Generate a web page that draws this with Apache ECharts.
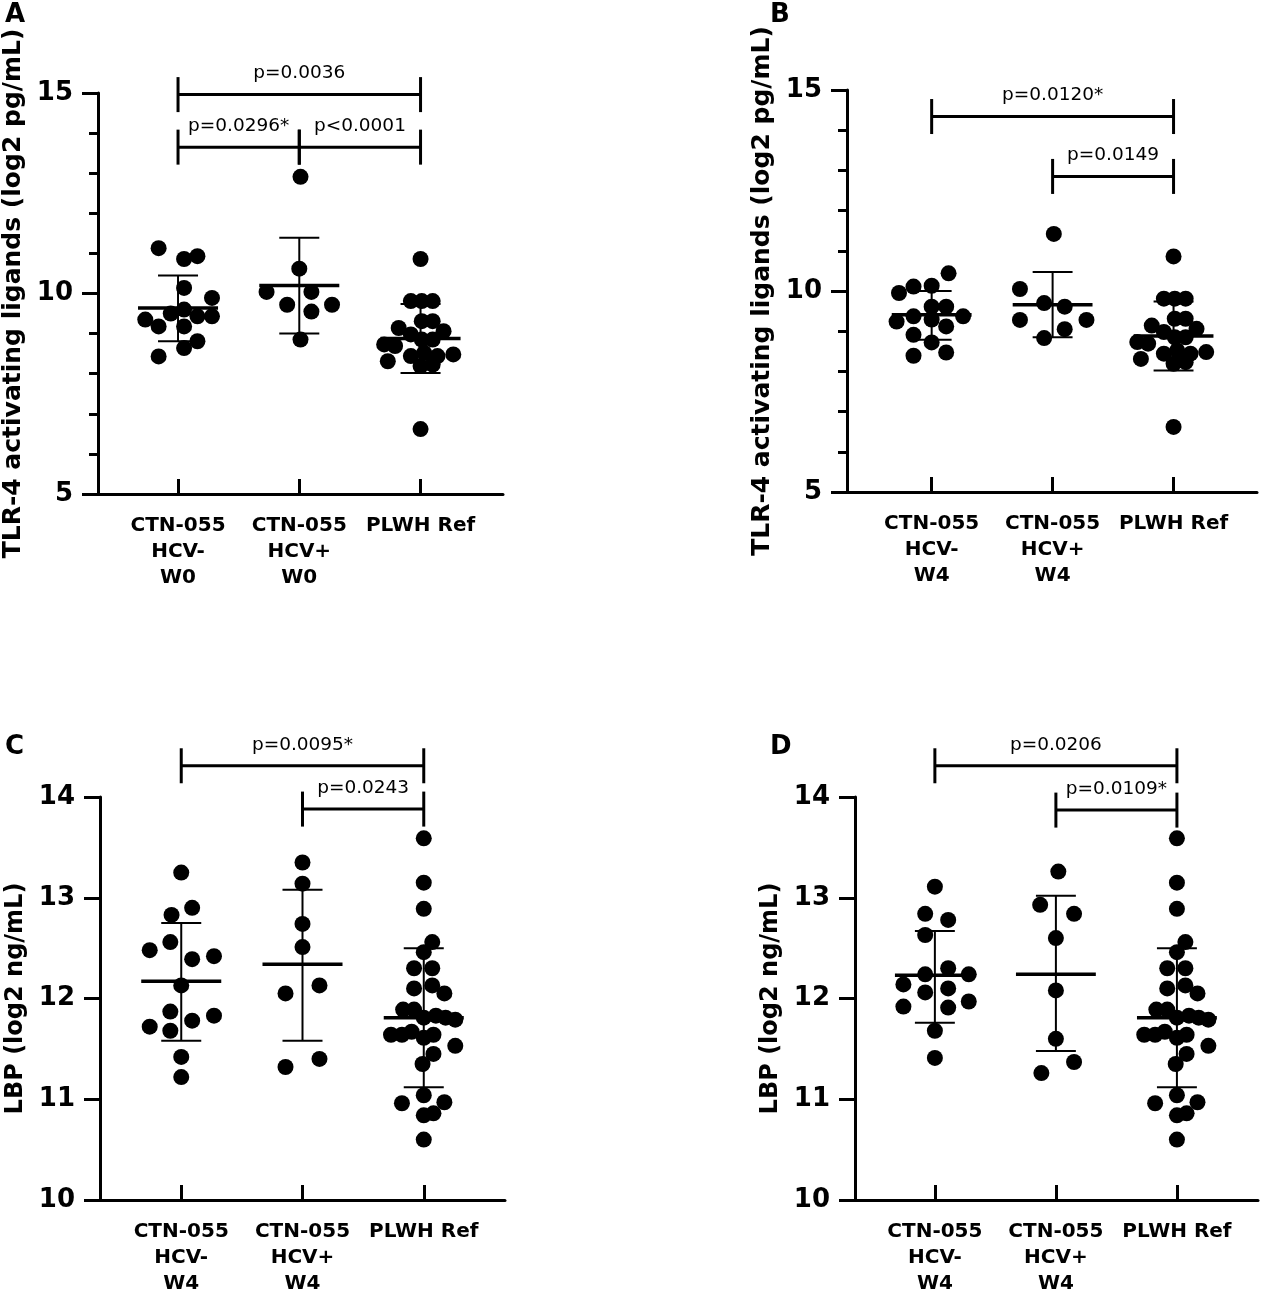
<!DOCTYPE html>
<html lang="en">
<head>
    <meta charset="UTF-8">
    <title>TLR-4 ligands and LBP</title>
    <script src="https://cdn.jsdelivr.net/npm/echarts@6/dist/echarts.min.js"></script>
    <style>
        html, body { margin: 0; padding: 0; background: #fff; }
        #main { width: 1261px; height: 1297px; }
    </style>
</head>
<body>
<div id="main"></div>
<script>
    // x labels
    var labelsW0 = ['CTN-055\nHCV-\nW0', 'CTN-055\nHCV+\nW0', 'PLWH Ref'];
    var labelsW4 = ['CTN-055\nHCV-\nW4', 'CTN-055\nHCV+\nW4', 'PLWH Ref'];

    // dots: [jitter offset, value]
    var tlrW0Neg = [[-0.16,11.13],[0.05,10.86],[0.16,10.93],[0.05,10.14],[0.28,9.89],[-0.27,9.35],[-0.16,9.18],
        [-0.06,9.50],[0.05,9.60],[0.16,9.43],[0.28,9.43],[0.05,9.18],[0.16,8.81],[0.05,8.64],[-0.16,8.43]];
    var tlrW0Pos = [[0.01,12.91],[0.0,10.62],[-0.27,10.04],[0.10,10.04],[-0.10,9.72],[0.10,9.55],[0.27,9.72],[0.01,8.85]];
    var tlrRef = [[0,10.86],[-0.08,9.81],[0.01,9.81],[0.10,9.81],[0.01,9.31],[0.10,9.31],[-0.18,9.14],[0.19,9.06],
        [-0.08,8.98],[0.01,8.85],[0.10,8.85],[-0.30,8.73],[-0.21,8.69],[-0.08,8.44],[0.03,8.52],[0.14,8.44],
        [0.27,8.48],[-0.27,8.31],[0,8.19],[0.10,8.23],[0,6.62]];
    var tlrW4Neg = [[-0.27,9.95],[-0.15,10.11],[0,10.13],[0.14,10.44],[-0.29,9.24],[-0.15,9.37],[0,9.61],[0.12,9.61],
        [0.26,9.37],[0,9.29],[0.12,9.12],[-0.15,8.91],[0,8.72],[0.12,8.47],[-0.15,8.39]];
    var tlrW4Pos = [[0.01,11.42],[-0.27,10.05],[-0.07,9.70],[0.10,9.61],[-0.27,9.28],[0.28,9.28],[0.10,9.05],[-0.07,8.83]];
    var lbpNegC = [[0,13.25],[-0.08,12.83],[0.09,12.90],[-0.26,12.48],[-0.09,12.56],[0.09,12.39],[0.27,12.42],[0,12.13],
        [-0.09,11.87],[0.09,11.78],[0.27,11.83],[-0.26,11.72],[-0.09,11.68],[0,11.42],[0,11.22]];
    var lbpPosC = [[0,13.35],[0,13.14],[0,12.74],[0,12.51],[-0.14,12.05],[0.14,12.13],[-0.14,11.32],[0.14,11.40]];
    var lbpRef = [[0,13.59],[0,13.15],[0,12.89],[0.07,12.56],[0,12.46],[-0.08,12.30],[0.07,12.30],[-0.08,12.10],
        [0.07,12.13],[0.17,12.05],[-0.17,11.89],[-0.08,11.89],[0,11.81],[0.10,11.83],[0.18,11.81],[0.26,11.79],
        [-0.27,11.64],[-0.18,11.64],[-0.10,11.67],[0,11.61],[0.08,11.64],[0.26,11.53],[0.08,11.45],[-0.01,11.35],
        [0,11.04],[-0.18,10.96],[0.17,10.97],[0,10.84],[0.08,10.86],[0,10.60]];
    var lbpNegD = [[0,13.11],[-0.08,12.84],[0.11,12.78],[-0.08,12.63],[-0.08,12.24],[0.11,12.30],[0.28,12.24],[-0.26,12.14],
        [-0.08,12.06],[0.11,12.10],[-0.26,11.92],[0.11,11.91],[0.28,11.97],[0,11.68],[0,11.41]];
    var lbpPosD = [[0.02,13.26],[-0.13,12.93],[0.15,12.84],[0,12.60],[0,12.08],[0,11.60],[0.15,11.37],[-0.12,11.26]];

    // mean, sd low, sd high per group
    var meanA = [9.64, 10.20, 8.88], sdLoA = [8.81, 9.00, 8.02], sdHiA = [10.45, 11.39, 9.74];
    var meanB = [9.41, 9.66, 8.88], sdLoB = [8.79, 8.85, 8.02], sdHiB = [10.00, 10.47, 9.74];
    var meanC = [12.17, 12.34, 11.81], sdLoC = [11.58, 11.58, 11.12], sdHiC = [12.75, 13.08, 12.50];
    var meanD = [12.23, 12.24, 11.81], sdLoD = [11.76, 11.48, 11.12], sdHiD = [12.67, 13.02, 12.50];

    // brackets: [from, to, y, text]
    var bracketsA = [[0, 2, 14.96, 'p=0.0036'], [0, 1, 13.65, 'p=0.0296*'], [1, 2, 13.65, 'p<0.0001']];
    var bracketsB = [[0, 2, 14.34, 'p=0.0120*'], [1, 2, 12.85, 'p=0.0149']];
    var bracketsC = [[0, 2, 14.31, 'p=0.0095*'], [1, 2, 13.88, 'p=0.0243']];
    var bracketsD = [[0, 2, 14.31, 'p=0.0206'], [1, 2, 13.87, 'p=0.0109*']];

    var FONT = '"DejaVu Sans", sans-serif';
    var chart = echarts.init(document.getElementById('main'));

    var panels = [
        {grid: {left: 97, top: 93, width: 406, height: 401}, xmin: -0.66, xmax: 2.68, ymin: 5, ymax: 15, step: 5, minor: true,
         title: 'TLR-4 activating ligands (log2 pg/mL)', titleSize: 25, labels: labelsW0, dots: [tlrW0Neg, tlrW0Pos, tlrRef],
         mean: meanA, lo: sdLoA, hi: sdHiA, brackets: bracketsA},
        {grid: {left: 847, top: 90, width: 410, height: 402}, xmin: -0.70, xmax: 2.69, ymin: 5, ymax: 15, step: 5, minor: true,
         title: 'TLR-4 activating ligands (log2 pg/mL)', titleSize: 25, labels: labelsW4, dots: [tlrW4Neg, tlrW4Pos, tlrRef],
         mean: meanB, lo: sdLoB, hi: sdHiB, brackets: bracketsB},
        {grid: {left: 100, top: 797, width: 405, height: 407}, xmin: -0.67, xmax: 2.67, ymin: 10, ymax: 14, step: 1, minor: false,
         title: 'LBP (log2 ng/mL)', titleSize: 24, labels: labelsW4, dots: [lbpNegC, lbpPosC, lbpRef],
         mean: meanC, lo: sdLoC, hi: sdHiC, brackets: bracketsC},
        {grid: {left: 855, top: 797, width: 403, height: 407}, xmin: -0.66, xmax: 2.67, ymin: 10, ymax: 14, step: 1, minor: false,
         title: 'LBP (log2 ng/mL)', titleSize: 24, labels: labelsW4, dots: [lbpNegD, lbpPosD, lbpRef],
         mean: meanD, lo: sdLoD, hi: sdHiD, brackets: bracketsD}
    ];

    var grids = [], xAxes = [], yAxes = [], series = [];

    panels.forEach(function (p, k) {
        grids.push(p.grid);
        xAxes.push({
            type: 'value', gridIndex: k, min: p.xmin, max: p.xmax,
            splitLine: {show: false},
            axisLine: {onZero: false, lineStyle: {color: '#000', width: 3}},
            axisTick: {inside: true, length: 15, customValues: [0, 1, 2], lineStyle: {color: '#000', width: 3}},
            axisLabel: {
                customValues: [0, 1, 2], margin: 19, color: '#000',
                fontFamily: FONT, fontWeight: 'bold', fontSize: 20, lineHeight: 26,
                formatter: function (v) { return p.labels[Math.round(v)]; }
            }
        });
        yAxes.push({
            type: 'value', gridIndex: k, min: p.ymin, max: p.ymax, interval: p.step,
            name: p.title, nameLocation: 'middle', nameGap: 72,
            nameTextStyle: {color: '#000', fontFamily: FONT, fontWeight: 'bold', fontSize: p.titleSize},
            splitLine: {show: false},
            axisLine: {show: true, onZero: false, lineStyle: {color: '#000', width: 3}},
            axisTick: {show: true, length: 16, lineStyle: {color: '#000', width: 3}},
            minorTick: {show: p.minor, splitNumber: 5, length: 9, lineStyle: {color: '#000', width: 3}},
            axisLabel: {margin: 25, color: '#000', fontFamily: FONT, fontWeight: 'bold', fontSize: 26}
        });

        // dots
        var pts = [];
        p.dots.forEach(function (g, i) {
            g.forEach(function (d) { pts.push([i + d[0], d[1]]); });
        });
        series.push({
            type: 'scatter', xAxisIndex: k, yAxisIndex: k, data: pts,
            symbolSize: 16, itemStyle: {color: '#000', opacity: 1}, z: 2, silent: true
        });

        // mean +- SD
        var stats = p.mean.map(function (m, i) { return [i, m, p.lo[i], p.hi[i]]; });
        series.push({
            type: 'custom', xAxisIndex: k, yAxisIndex: k, data: stats, z: 3, silent: true,
            renderItem: function (params, api) {
                var x = api.value(0);
                var c = api.coord([x, api.value(1)]);
                var lo = api.coord([x, api.value(2)]);
                var hi = api.coord([x, api.value(3)]);
                var unit = api.size([1, 0])[0];
                var mw = unit * 0.33, cw = unit * 0.165;
                var st = {stroke: '#000', lineWidth: 2};
                return {type: 'group', children: [
                    {type: 'line', shape: {x1: lo[0], y1: lo[1], x2: hi[0], y2: hi[1]}, style: st},
                    {type: 'line', shape: {x1: hi[0] - cw, y1: hi[1], x2: hi[0] + cw, y2: hi[1]}, style: st},
                    {type: 'line', shape: {x1: lo[0] - cw, y1: lo[1], x2: lo[0] + cw, y2: lo[1]}, style: st},
                    {type: 'line', shape: {x1: c[0] - mw, y1: c[1], x2: c[0] + mw, y2: c[1]},
                     style: {stroke: '#000', lineWidth: 3.5}}
                ]};
            }
        });

        // significance brackets
        series.push({
            type: 'custom', xAxisIndex: k, yAxisIndex: k, data: p.brackets.map(function (b) { return [b[0], b[1], b[2]]; }),
            z: 4, silent: true, clip: false,
            renderItem: function (params, api) {
                var b = p.brackets[params.dataIndex];
                var a = api.coord([b[0], b[2]]);
                var e = api.coord([b[1], b[2]]);
                var h = 17.5;
                var st = {stroke: '#000', lineWidth: 3};
                return {type: 'group', children: [
                    {type: 'line', shape: {x1: a[0], y1: a[1], x2: e[0], y2: e[1]}, style: st},
                    {type: 'line', shape: {x1: a[0], y1: a[1] - h, x2: a[0], y2: a[1] + h}, style: st},
                    {type: 'line', shape: {x1: e[0], y1: e[1] - h, x2: e[0], y2: e[1] + h}, style: st},
                    {type: 'text', x: (a[0] + e[0]) / 2, y: a[1] - 21,
                     style: {text: b[3], fill: '#000', font: '18.5px ' + FONT, align: 'center', verticalAlign: 'middle'}}
                ]};
            }
        });
    });

    var letterStyle = {fill: '#000', font: 'bold 26px ' + FONT};
    chart.setOption({
        backgroundColor: '#fff',
        animation: false,
        grid: grids,
        xAxis: xAxes,
        yAxis: yAxes,
        series: series,
        graphic: [
            {type: 'text', left: 5, top: 2, style: Object.assign({text: 'A'}, letterStyle)},
            {type: 'text', left: 770, top: 2, style: Object.assign({text: 'B'}, letterStyle)},
            {type: 'text', left: 5, top: 734, style: Object.assign({text: 'C'}, letterStyle)},
            {type: 'text', left: 770, top: 734, style: Object.assign({text: 'D'}, letterStyle)}
        ]
    });
</script>
</body>
</html>
